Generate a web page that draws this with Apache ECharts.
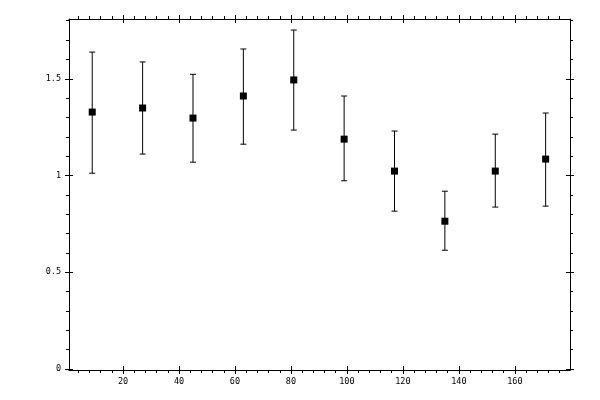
<!DOCTYPE html>
<html>
<head>
<meta charset="utf-8">
<script src="https://cdn.jsdelivr.net/npm/echarts@6/dist/echarts.min.js"></script>
<style>html,body{margin:0;padding:0;background:#fff}#c{width:600px;height:400px}</style>
</head>
<body>
<div id="c"></div>
<script>
const xValues = [9, 27, 45, 63, 81, 99, 117, 135, 153, 171];
const yValues = [1.328, 1.349, 1.297, 1.411, 1.494, 1.188, 1.023, 0.764, 1.023, 1.085];
const yLow    = [1.012, 1.111, 1.069, 1.162, 1.235, 0.973, 0.816, 0.614, 0.837, 0.842];
const yHigh   = [1.638, 1.587, 1.523, 1.654, 1.752, 1.411, 1.230, 0.919, 1.214, 1.323];
const xMajorTicks = [20, 40, 60, 80, 100, 120, 140, 160];
const xMinorTicks = [4, 8, 12, 16, 24, 28, 32, 36, 44, 48, 52, 56, 64, 68, 72, 76, 84, 88, 92, 96,
  104, 108, 112, 116, 124, 128, 132, 136, 144, 148, 152, 156, 164, 168, 172, 176];
const yMajorTicks = [0, 0.5, 1, 1.5];
const yMinorTicks = [0.1, 0.2, 0.3, 0.4, 0.6, 0.7, 0.8, 0.9, 1.1, 1.2, 1.3, 1.4, 1.6, 1.7, 1.8];

const X_MIN = 0.7, X_MAX = 179.7, Y_MIN = -0.005, Y_MAX = 1.809;
const FONT = { fontFamily: 'DejaVu Sans Mono', fontSize: 8.5, color: '#000' };

function axis(kind, position, values, opts) {
  return {
    type: 'value', position: position,
    min: kind === 'x' ? X_MIN : Y_MIN,
    max: kind === 'x' ? X_MAX : Y_MAX,
    axisLine: { show: !!opts.line, onZero: false, lineStyle: { color: '#000', width: 1 } },
    axisTick: { show: true, inside: !!opts.inside, length: opts.len, customValues: values,
      lineStyle: { color: '#000', width: 1 } },
    axisLabel: { show: !!opts.labels, customValues: values, margin: opts.margin || 8,
      formatter: v => String(v), ...FONT },
    splitLine: { show: false }
  };
}

const xAxes = [
  axis('x', 'bottom', xMajorTicks, { line: true, len: 4, labels: true, margin: 7 }),
  axis('x', 'bottom', xMajorTicks, { inside: true, len: 4 }),
  axis('x', 'bottom', xMinorTicks, { len: 3 }),
  axis('x', 'top', xMajorTicks, { line: true, len: 4 }),
  axis('x', 'top', xMajorTicks, { inside: true, len: 4 }),
  axis('x', 'top', xMinorTicks, { len: 3 })
];
const yAxes = [
  axis('y', 'left', yMajorTicks, { line: true, len: 4, labels: true, margin: 8 }),
  axis('y', 'left', yMajorTicks, { inside: true, len: 4 }),
  axis('y', 'left', yMinorTicks, { len: 3 }),
  axis('y', 'right', yMajorTicks, { line: true, len: 4 }),
  axis('y', 'right', yMajorTicks, { inside: true, len: 4 }),
  axis('y', 'right', yMinorTicks, { len: 3 })
];

const points = xValues.map((x, i) => [x, yValues[i]]);
const bars = xValues.map((x, i) => [x, yLow[i], yHigh[i]]);

const chart = echarts.init(document.getElementById('c'));
chart.setOption({
  animation: false,
  backgroundColor: '#fff',
  grid: { left: 69, right: 30, top: 19, bottom: 30 },
  xAxis: xAxes,
  yAxis: yAxes,
  series: [
    {
      type: 'custom',
      xAxisIndex: 0, yAxisIndex: 0,
      data: bars,
      renderItem: function (params, api) {
        const x = api.value(0);
        const lo = api.coord([x, api.value(1)]);
        const hi = api.coord([x, api.value(2)]);
        const w = 3;
        const st = { stroke: '#000', lineWidth: 1 };
        return {
          type: 'group',
          children: [
            { type: 'line', shape: { x1: lo[0], y1: lo[1], x2: hi[0], y2: hi[1] }, style: st },
            { type: 'line', shape: { x1: lo[0] - w, y1: lo[1], x2: lo[0] + w, y2: lo[1] }, style: st },
            { type: 'line', shape: { x1: hi[0] - w, y1: hi[1], x2: hi[0] + w, y2: hi[1] }, style: st }
          ]
        };
      },
      z: 2
    },
    {
      type: 'scatter',
      xAxisIndex: 0, yAxisIndex: 0,
      data: points,
      symbol: 'rect',
      symbolSize: 7,
      itemStyle: { color: '#000', opacity: 1 },
      emphasis: { disabled: true },
      z: 3
    }
  ]
});
</script>
</body>
</html>
